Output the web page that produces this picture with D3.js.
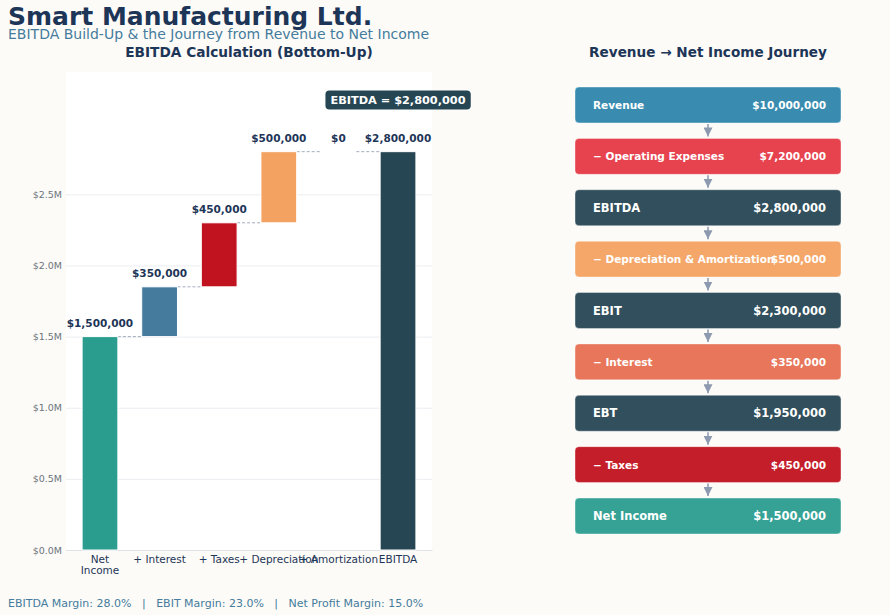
<!DOCTYPE html>
<html>
<head>
<meta charset="utf-8">
<script src="https://cdn.jsdelivr.net/npm/d3@7"></script>
<style>
  body { margin: 0; background: #fcfbf7; }
  svg { display: block; font-family: "DejaVu Sans", sans-serif; }
</style>
</head>
<body>
<div id="chart"></div>
<script>
// waterfall data
const wfCategories = ["Net\nIncome", "+ Interest", "+ Taxes", "+ Depreciation", "+ Amortization", "EBITDA"];
const wfValues = [1500000, 350000, 450000, 500000, 0, 2800000];
const wfColors = ["#2a9d8f", "#457b9d", "#c1121f", "#f4a261", "#e9c46a", "#264653"];
const yTicks = [0, 500000, 1000000, 1500000, 2000000, 2500000];

// journey data
const journeySteps = ["Revenue", "\u2212 Operating Expenses", "EBITDA", "\u2212 Depreciation & Amortization",
  "EBIT", "\u2212 Interest", "EBT", "\u2212 Taxes", "Net Income"];
const journeyAmounts = [10000000, 7200000, 2800000, 500000, 2300000, 350000, 1950000, 450000, 1500000];
const journeyColors = ["#2e86ab", "#e63946", "#264653", "#f4a261", "#264653", "#e76f51", "#264653", "#c1121f", "#2a9d8f"];
const journeySubtotal = [false, false, true, false, true, false, true, false, true];

const margins = { ebitda: 28.0, ebit: 23.0, net: 15.0 };

const W = 890, H = 615;
const navy = "#1d3557";
const money = d3.format("$,.0f");

const svg = d3.select("#chart").append("svg")
  .attr("width", W).attr("height", H);

svg.append("rect").attr("width", W).attr("height", H).attr("fill", "#fcfbf7");

// titles
svg.append("text").attr("x", 8).attr("y", 25)
  .attr("font-size", 25).attr("font-weight", "bold").attr("fill", navy)
  .text("Smart Manufacturing Ltd.");
svg.append("text").attr("x", 8).attr("y", 39)
  .attr("font-size", 14).attr("fill", "#457b9d")
  .text("EBITDA Build-Up & the Journey from Revenue to Net Income");

// ---------- waterfall ----------
const plot = { left: 66, right: 432, top: 72, bottom: 550 };
const total = wfValues[wfValues.length - 1];

const x = d3.scaleBand()
  .domain(wfCategories)
  .range([plot.left, plot.right])
  .paddingInner(0.4)
  .paddingOuter(0.27);
const y = d3.scaleLinear()
  .domain([0, total * 1.2])
  .range([plot.bottom, plot.top]);

svg.append("rect")
  .attr("x", plot.left).attr("y", plot.top)
  .attr("width", plot.right - plot.left).attr("height", plot.bottom - plot.top)
  .attr("fill", "#ffffff");

svg.append("text")
  .attr("x", (plot.left + plot.right) / 2).attr("y", 57)
  .attr("text-anchor", "middle").attr("font-size", 13.7).attr("font-weight", "bold").attr("fill", navy)
  .text("EBITDA Calculation (Bottom-Up)");

// y axis with grid
const yAxis = svg.append("g")
  .attr("transform", "translate(" + plot.left + ",0)")
  .call(d3.axisLeft(y).tickValues(yTicks)
    .tickSize(-(plot.right - plot.left)).tickPadding(4)
    .tickFormat(d => "$" + (d / 1e6).toFixed(1) + "M"));
yAxis.select(".domain").remove();
yAxis.selectAll("line").attr("stroke", "#ebedf0").attr("stroke-width", 1);
yAxis.selectAll("text").attr("fill", "#6c757d").attr("font-size", 9.5).attr("font-family", "DejaVu Sans");

// x axis
const xAxis = svg.append("g")
  .attr("transform", "translate(0," + plot.bottom + ")")
  .call(d3.axisBottom(x).tickSize(0).tickPadding(6).tickFormat(""));
xAxis.select(".domain").attr("stroke", "#dee2e6");
xAxis.selectAll(".tick").each(function (d) {
  const t = d3.select(this).select("text")
    .attr("fill", navy).attr("font-size", 10.5).attr("font-family", "DejaVu Sans");
  d.split("\n").forEach((line, i) => {
    t.append("tspan").attr("x", 0).attr("dy", i === 0 ? "0.71em" : "1.05em").text(line);
  });
});

// bar extents
let running = 0;
const bars = wfValues.map((v, i) => {
  let lo, hi;
  if (i === 0 || i === wfValues.length - 1) { lo = 0; hi = v; running = v; }
  else { lo = running; hi = running + v; running = hi; }
  return { cat: wfCategories[i], value: v, lo, hi, color: wfColors[i] };
});

// connectors
for (let i = 0; i < bars.length - 1; i++) {
  svg.append("line")
    .attr("x1", x(bars[i].cat) + x.bandwidth())
    .attr("x2", x(bars[i + 1].cat))
    .attr("y1", y(bars[i].hi)).attr("y2", y(bars[i].hi))
    .attr("stroke", "#8d99ae").attr("stroke-width", 1).attr("stroke-dasharray", "3,2")
    .attr("opacity", 0.8);
}

svg.selectAll(".bar").data(bars.filter(d => d.value > 0)).enter().append("rect")
  .attr("x", d => x(d.cat))
  .attr("y", d => y(d.hi))
  .attr("width", x.bandwidth())
  .attr("height", d => y(d.lo) - y(d.hi))
  .attr("fill", d => d.color)
  .attr("stroke", "#ffffff").attr("stroke-width", 1);

svg.selectAll(".lbl").data(bars).enter().append("text")
  .attr("x", d => x(d.cat) + x.bandwidth() / 2)
  .attr("y", d => y(d.hi) - 10)
  .attr("text-anchor", "middle").attr("font-size", 10.5).attr("font-weight", "bold").attr("fill", navy)
  .text(d => money(d.value));

// EBITDA badge
const last = bars[bars.length - 1];
const bx = x(last.cat) + x.bandwidth() / 2, by = y(total * 1.13);
const badge = svg.append("g");
const btxt = badge.append("text")
  .attr("x", bx).attr("y", by + 4)
  .attr("text-anchor", "middle").attr("font-size", 11.3).attr("font-weight", "bold").attr("fill", "#ffffff")
  .text("EBITDA = " + money(total));
const bb = btxt.node().getBBox();
badge.insert("rect", "text")
  .attr("x", bb.x - 5).attr("y", by - 9.5)
  .attr("width", bb.width + 10).attr("height", 19)
  .attr("rx", 4).attr("fill", "#264653");

// ---------- journey ----------
const jl = { left: 575, right: 841 };
svg.append("text")
  .attr("x", 708).attr("y", 57)
  .attr("text-anchor", "middle").attr("font-size", 13.6).attr("font-weight", "bold").attr("fill", navy)
  .text("Revenue \u2192 Net Income Journey");

const yj = d3.scaleBand()
  .domain(journeySteps)
  .range([87, 534])
  .paddingInner(0.3);

const jx = (jl.left + jl.right) / 2;
svg.append("defs").append("marker")
  .attr("id", "arr").attr("viewBox", "0 0 10 10").attr("refX", 10).attr("refY", 5)
  .attr("markerWidth", 6).attr("markerHeight", 6).attr("orient", "auto")
  .append("path").attr("d", "M0,0L10,5L0,10z").attr("fill", "#8d99ae");

journeySteps.forEach((s, i) => {
  if (i < journeySteps.length - 1) {
    svg.append("line")
      .attr("x1", jx).attr("x2", jx)
      .attr("y1", yj(s) + yj.bandwidth() + 1)
      .attr("y2", yj(journeySteps[i + 1]) - 2)
      .attr("stroke", "#8d99ae").attr("stroke-width", 1.5)
      .attr("marker-end", "url(#arr)");
  }
});

const rows = svg.selectAll(".row").data(journeySteps).enter().append("g");
rows.append("rect")
  .attr("x", jl.left).attr("y", d => yj(d))
  .attr("width", jl.right - jl.left).attr("height", yj.bandwidth())
  .attr("rx", 4)
  .attr("fill", (d, i) => journeyColors[i]).attr("fill-opacity", 0.95)
  .attr("stroke", "#ffffff").attr("stroke-opacity", 0.4);
rows.append("text")
  .attr("x", jl.left + 18).attr("y", d => yj(d) + yj.bandwidth() / 2 + 4)
  .attr("font-size", (d, i) => journeySubtotal[i] ? 11.5 : 10.5).attr("font-weight", "bold").attr("fill", "#ffffff")
  .text(d => d);
rows.append("text")
  .attr("x", jl.right - 15).attr("y", d => yj(d) + yj.bandwidth() / 2 + 4)
  .attr("text-anchor", "end")
  .attr("font-size", (d, i) => journeySubtotal[i] ? 11.5 : 10.5).attr("font-weight", "bold").attr("fill", "#ffffff")
  .text((d, i) => money(journeyAmounts[i]));

// footer
svg.append("text").attr("x", 8).attr("y", 607)
  .attr("font-size", 11).attr("fill", "#457b9d")
  .attr("xml:space", "preserve").style("white-space", "pre")
  .text("EBITDA Margin: " + margins.ebitda.toFixed(1) + "%   |   EBIT Margin: " + margins.ebit.toFixed(1) +
    "%   |   Net Profit Margin: " + margins.net.toFixed(1) + "%");
</script>
</body>
</html>
